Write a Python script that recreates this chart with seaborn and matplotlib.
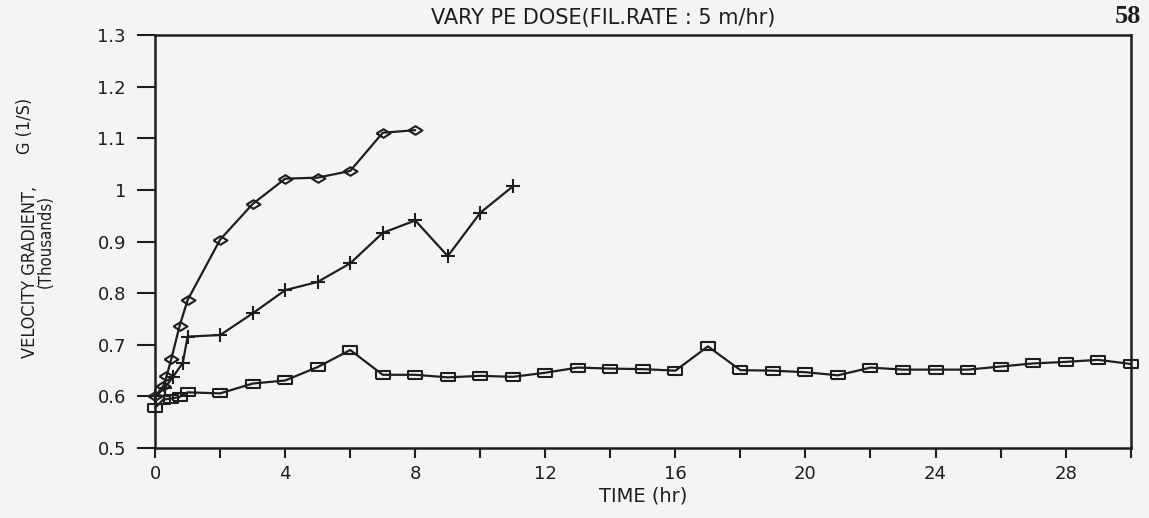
import numpy as np
import pandas as pd
import matplotlib
matplotlib.use("Agg")
import matplotlib.pyplot as plt
from matplotlib import font_manager
import seaborn as sns

# values (time in hr, G in thousands of 1/s)
time_diamond = [0, 0.25, 0.35, 0.5, 0.75, 1, 2, 3, 4, 5, 6, 7, 8]
g_diamond = [0.600, 0.620, 0.639, 0.673, 0.736, 0.787, 0.904, 0.973,
             1.022, 1.024, 1.037, 1.111, 1.116]

time_plus = [0, 0.3, 0.55, 0.85, 1, 2, 3, 4, 5, 6, 7, 8, 9, 10, 11]
g_plus = [0.600, 0.617, 0.638, 0.665, 0.716, 0.719, 0.761, 0.806, 0.822,
          0.858, 0.917, 0.941, 0.872, 0.956, 1.007]

time_square = [0, 0.25, 0.5, 0.75, 1] + list(range(2, 31))
g_square = [0.578, 0.594, 0.596, 0.599, 0.608,
            0.606, 0.625, 0.631, 0.657, 0.690, 0.642, 0.642, 0.637, 0.640,
            0.638, 0.646, 0.656, 0.654, 0.653, 0.650, 0.697, 0.651, 0.650,
            0.647, 0.641, 0.656, 0.652, 0.652, 0.652, 0.658, 0.664, 0.667,
            0.671, 0.663]

x_ticks = list(range(0, 31, 2))
x_labels = [str(t) if t % 4 == 0 and t < 30 else "" for t in x_ticks]
y_ticks = [0.5, 0.6, 0.7, 0.8, 0.9, 1.0, 1.1, 1.2, 1.3]
y_labels = ["0.5", "0.6", "0.7", "0.8", "0.9", "1", "1.1", "1.2", "1.3"]

sns.set_theme(style="ticks")
plt.rcParams["font.family"] = ["DejaVu Sans"]

# condensed face for the y label if it is around
installed = {(f.name, f.stretch) for f in font_manager.fontManager.ttflist}
has_cond = any(n == "DejaVu Sans" and s == "condensed" for n, s in installed)
label_font = dict(family="DejaVu Sans", stretch="condensed") if has_cond else dict(family="DejaVu Sans")

paper = "#f4f4f2"
ink = "#1e1e1e"

fig = plt.figure(figsize=(11.49, 5.18), dpi=100, facecolor=paper)
ax = fig.add_axes([0.135, 0.135, 0.849, 0.797])
ax.set_facecolor(paper)

# flattened open diamond / open rectangle like the old plotter marks
diamond = [(-1, 0), (0, 0.62), (1, 0), (0, -0.62), (-1, 0)]
rect = [(-1, -0.62), (1, -0.62), (1, 0.62), (-1, 0.62), (-1, -0.62)]

common = dict(color=ink, lw=1.6, clip_on=False, markeredgecolor=ink,
              markeredgewidth=1.5)
sns.lineplot(x=time_diamond, y=g_diamond, ax=ax, marker=diamond,
             markersize=10, markerfacecolor="none", **common)
sns.lineplot(x=time_plus, y=g_plus, ax=ax, marker="+",
             markersize=10, **common)
sns.lineplot(x=time_square, y=g_square, ax=ax, marker=rect,
             markersize=10, markerfacecolor="none", **common)

ax.set_xlim(0, 30)
ax.set_ylim(0.5, 1.3)
ax.set_xticks(x_ticks)
ax.set_xticklabels(x_labels)
ax.set_yticks(y_ticks)
ax.set_yticklabels(y_labels)
ax.tick_params(axis="x", direction="out", length=7, width=1.5, pad=5,
               labelsize=13, colors=ink)
ax.tick_params(axis="y", direction="out", length=13, width=1.5, pad=8,
               labelsize=13, colors=ink)
for s in ax.spines.values():
    s.set_linewidth(1.8)
    s.set_color(ink)

ax.set_xlabel("TIME (hr)", fontsize=14, color=ink, labelpad=3)
ax.set_ylabel("")

fig.text(0.525, 0.965, "VARY PE DOSE(FIL.RATE : 5 m/hr)", ha="center",
         va="center", fontsize=15, color=ink)
fig.text(0.982, 0.968, "58", ha="center", va="center", fontsize=19,
         fontweight="bold", family="Liberation Serif", color=ink)

fig.text(0.026, 0.475, "VELOCITY GRADIENT,", rotation=90, ha="center",
         va="center", fontsize=13, color=ink, **label_font)
fig.text(0.022, 0.757, "G (1/S)", rotation=90, ha="center", va="center",
         fontsize=13, color=ink, **label_font)
fig.text(0.040, 0.533, "(Thousands)", rotation=90, ha="center",
         va="center", fontsize=12, color=ink, **label_font)

fig.savefig("out.png", dpi=100, facecolor=paper)
